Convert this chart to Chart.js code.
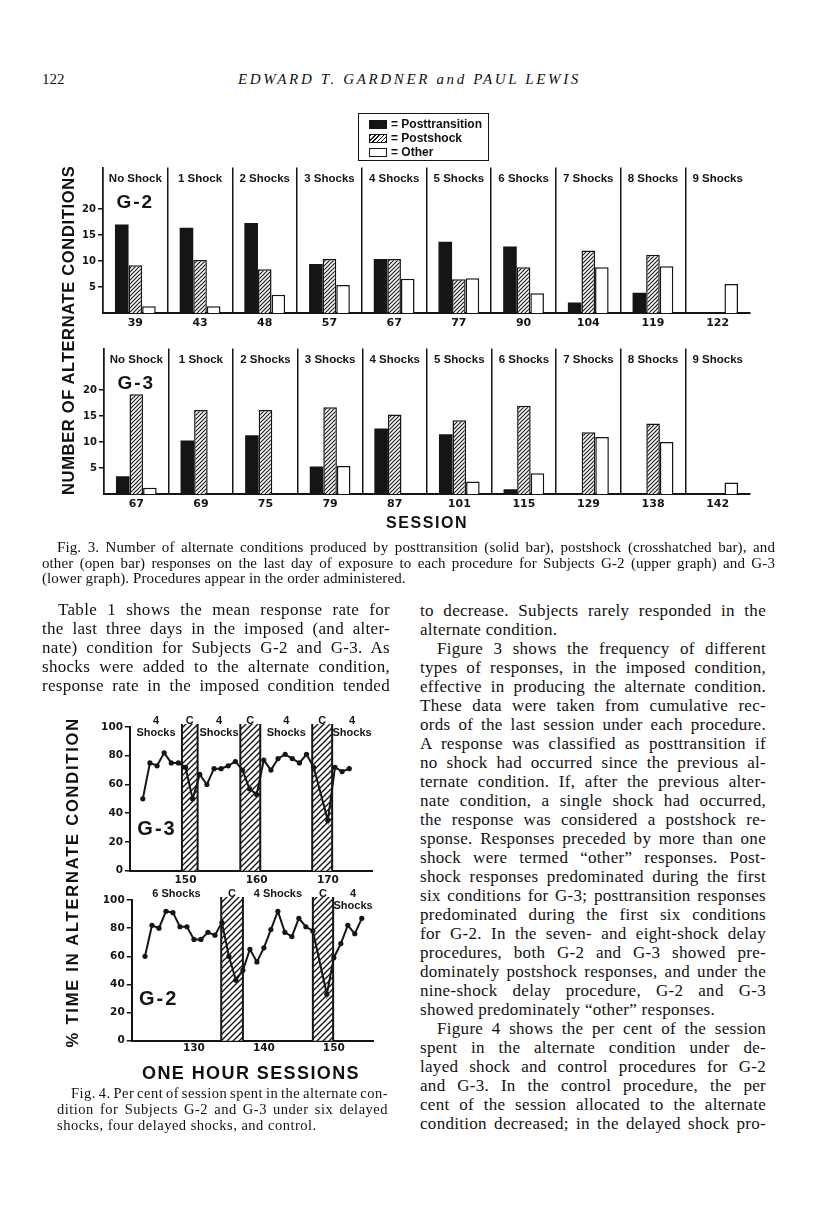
<!DOCTYPE html>
<html>
<head>
<meta charset="utf-8">
<script src="https://cdn.jsdelivr.net/npm/chart.js@4.4.1/dist/chart.umd.min.js"></script>
<style>
  html, body { margin: 0; padding: 0; background: #fff; }
  body { width: 816px; height: 1207px; position: relative; overflow: hidden; color: #111; }
  canvas { position: absolute; }
  .t { position: absolute; white-space: nowrap; }
  .serif { font-family: 'Liberation Serif', 'Times New Roman', serif; }
  .body { font-size: 17px; line-height: 18px; letter-spacing: 0.3px; }
  .cap3 { font-size: 15px; line-height: 16px; letter-spacing: 0.1px; }
  .cap4 { font-size: 14.5px; line-height: 16px; letter-spacing: 0.5px; }
  .head { font-size: 15px; line-height: 18px; }
  .fig { font-family: 'Liberation Sans', Arial, sans-serif; font-weight: bold; }
  #legend { position: absolute; left: 358px; top: 113px; width: 131px; height: 48px;
    border: 1.5px solid #151515; padding: 3px 0 0 10px; box-sizing: border-box;
    font: bold 12px 'Liberation Sans', Arial, sans-serif; }
  #legend div { height: 14px; line-height: 14px; white-space: nowrap; }
  .sw { display: inline-block; width: 18px; height: 9px; vertical-align: -1px; margin-right: 4px; box-sizing: border-box; }
  .sw0 { background: #151515; }
  .sw1 { border: 1.5px solid #151515; background: repeating-linear-gradient(-45deg, #151515 0 1px, #fff 1px 3px); }
  .sw2 { border: 1.5px solid #151515; background: #fff; }
</style>
</head>
<body>
<canvas id="g2bars" width="730" height="185" style="left:40px;top:150px"></canvas>
<canvas id="g3bars" width="730" height="185" style="left:40px;top:331px"></canvas>
<canvas id="g3line" width="330" height="195" style="left:60px;top:700px"></canvas>
<canvas id="g2line" width="330" height="195" style="left:60px;top:872px"></canvas>
<div id="legend"></div>
<script>
// ---------- Fig. 3 data ----------
const procedures = ['No Shock', '1 Shock', '2 Shocks', '3 Shocks', '4 Shocks', '5 Shocks', '6 Shocks', '7 Shocks', '8 Shocks', '9 Shocks']
const responseTypes = ['Posttransition', 'Postshock', 'Other']
const countTicks = [5, 10, 15, 20]

const g2Sessions = ['39', '43', '48', '57', '67', '77', '90', '104', '119', '122']
const g2Posttransition = [17, 16.4, 17.3, 9.4, 10.4, 13.7, 12.8, 2, 3.9, 0]
const g2Postshock = [9.2, 10.2, 8.4, 10.4, 10.4, 6.5, 8.8, 12, 11.2, 0]
const g2Other = [1.3, 1.3, 3.5, 5.4, 6.6, 6.7, 3.8, 8.8, 9, 5.6]

const g3Sessions = ['67', '69', '75', '79', '87', '101', '115', '129', '138', '142']
const g3Posttransition = [3.4, 10.3, 11.3, 5.3, 12.6, 11.5, 0.9, 0, 0, 0]
const g3Postshock = [19.2, 16.2, 16.2, 16.7, 15.3, 14.2, 17, 11.9, 13.6, 0]
const g3Other = [1.2, 0, 0, 5.4, 0, 2.4, 4, 11, 10, 2.2]

// ---------- Fig. 4 data ----------
const percentTicks = [0, 20, 40, 60, 80, 100]

const g3Days = [144, 145, 146, 147, 148, 149, 150, 151, 152, 153, 154, 155, 156, 157, 158, 159, 160, 161, 162, 163, 164, 165, 166, 167, 168, 170, 171, 172, 173]
const g3Percent = [50, 75, 73, 82, 75, 75, 72, 50, 67, 60, 71, 71, 73, 76, 70, 57, 53, 77, 70, 78, 81, 78, 75, 81, 72, 35, 72, 69, 71]
const g3ControlStart = [149.5, 157.7, 167.8]
const g3ControlEnd = [151.7, 160.5, 170.6]
const g3Phases = [['4', 'Shocks'], ['C'], ['4', 'Shocks'], ['C'], ['4', 'Shocks'], ['C'], ['4', 'Shocks']]
const g3DayTicks = [150, 160, 170]
const g3DayRange = [142.2, 176.2]

const g2Days = [123, 124, 125, 126, 127, 128, 129, 130, 131, 132, 133, 134, 135, 136, 137, 138, 139, 140, 141, 142, 143, 144, 145, 146, 147, 149, 150, 151, 152, 153, 154]
const g2Percent = [60, 82, 80, 92, 91, 81, 81, 72, 72, 77, 75, 84, 60, 43, 50, 65, 56, 66, 79, 92, 77, 74, 87, 81, 78, 33, 59, 69, 82, 76, 87]
const g2ControlStart = [133.9, 147.0]
const g2ControlEnd = [137.0, 149.9]
const g2Phases = [['6 Shocks'], ['C'], ['4 Shocks'], ['C'], ['4', 'Shocks']]
const g2DayTicks = [130, 140, 150]
const g2DayRange = [121.1, 155.6]

const INK = '#151515'
const SANS = '"Liberation Sans", Arial, sans-serif'

function hatchTile(size, lw) {
  const c = document.createElement('canvas')
  c.width = c.height = size
  const g = c.getContext('2d')
  g.fillStyle = '#fff'
  g.fillRect(0, 0, size, size)
  g.strokeStyle = INK
  g.lineWidth = lw
  g.beginPath()
  g.moveTo(-size, 2 * size); g.lineTo(2 * size, -size)
  g.moveTo(-size, size); g.lineTo(size, -size)
  g.moveTo(0, 2 * size); g.lineTo(2 * size, 0)
  g.stroke()
  return c
}

// procedure names on top of each column + subject name
function procedureLabels(subject) {
  return {
    id: 'procedureLabels',
    afterDraw(chart) {
      const { ctx, chartArea, scales: { x } } = chart
      ctx.save()
      ctx.fillStyle = INK
      ctx.textAlign = 'center'
      ctx.textBaseline = 'middle'
      ctx.font = 'bold 11.5px ' + SANS
      procedures.forEach((p, i) => ctx.fillText(p, x.getPixelForValue(i), chartArea.top + 11))
      ctx.font = 'bold 19px ' + SANS
      ctx.letterSpacing = '2px'
      ctx.fillText(subject, x.getPixelForValue(0), chartArea.top + 35)
      ctx.restore()
    }
  }
}

function barPanel(id, sessions, post, shock, other, subject, axisW, padTop) {
  const ctx = document.getElementById(id).getContext('2d')
  const hatch = ctx.createPattern(hatchTile(4, 1.1), 'repeat')
  const shape = { categoryPercentage: 0.63, barPercentage: 1 }
  return new Chart(ctx, {
    type: 'bar',
    data: {
      labels: sessions,
      datasets: [
        Object.assign({ label: responseTypes[0], data: post, backgroundColor: INK, borderWidth: 0 }, shape),
        Object.assign({ label: responseTypes[1], data: shock, backgroundColor: hatch, borderColor: INK, borderWidth: 1.5 }, shape),
        Object.assign({ label: responseTypes[2], data: other, backgroundColor: '#fff', borderColor: INK, borderWidth: 1.5 }, shape)
      ]
    },
    options: {
      responsive: false,
      animation: false,
      layout: { padding: { top: padTop, right: 20, left: 0, bottom: 0 } },
      plugins: { legend: { display: false }, tooltip: { enabled: false } },
      scales: {
        x: {
          grid: {
            offset: true, drawTicks: false, lineWidth: 1.5,
            color: c => c.type === 'tick' ? INK : 'rgba(0,0,0,0)'
          },
          border: { color: INK, width: 2 },
          ticks: { font: { family: 'DejaVu Sans', weight: 'bold', size: 11 }, color: INK, padding: 4, maxRotation: 0, autoSkip: false },
          afterFit: s => { s.height = 22 }
        },
        y: {
          min: 0, max: 28,
          afterBuildTicks: s => { s.ticks = countTicks.map(v => ({ value: v })) },
          grid: { drawOnChartArea: false, tickLength: 5, color: INK, lineWidth: 1.5 },
          border: { color: INK, width: 1.5 },
          ticks: { font: { family: 'DejaVu Sans', weight: 'bold', size: 10 }, color: INK, padding: 2 },
          afterFit: s => { s.width = axisW }
        }
      }
    },
    plugins: [procedureLabels(subject)]
  })
}

// hatched control sessions and phase names
function controlBands(starts, ends, phases, subject) {
  return {
    id: 'controlBands',
    beforeDatasetsDraw(chart) {
      const { ctx, chartArea: a, scales: { x } } = chart
      const pat = ctx.createPattern(hatchTile(6, 1.4), 'repeat')
      ctx.save()
      starts.forEach((s, i) => {
        const x1 = x.getPixelForValue(s), x2 = x.getPixelForValue(ends[i])
        ctx.fillStyle = pat
        ctx.fillRect(x1, a.top - 3, x2 - x1, a.bottom - a.top + 3)
        ctx.strokeStyle = INK
        ctx.lineWidth = 2
        ctx.beginPath()
        ctx.moveTo(x1, a.top - 3); ctx.lineTo(x1, a.bottom)
        ctx.moveTo(x2, a.top - 3); ctx.lineTo(x2, a.bottom)
        ctx.stroke()
      })
      ctx.restore()
    },
    afterDraw(chart) {
      const { ctx, chartArea: a, scales: { x } } = chart
      ctx.save()
      ctx.fillStyle = INK
      ctx.textAlign = 'center'
      ctx.textBaseline = 'middle'
      ctx.font = 'bold 11px ' + SANS
      phases.forEach((lines, i) => {
        let cx
        if (i % 2) {
          const k = (i - 1) / 2
          cx = (x.getPixelForValue(starts[k]) + x.getPixelForValue(ends[k])) / 2
        } else {
          const k = i / 2
          const l = k === 0 ? a.left : x.getPixelForValue(ends[k - 1])
          const r = k === starts.length ? a.right : x.getPixelForValue(starts[k])
          cx = (l + r) / 2
        }
        lines.forEach((txt, j) => ctx.fillText(txt, cx, a.top - 6 + j * 12))
      })
      ctx.font = 'bold 20px ' + SANS
      ctx.letterSpacing = '2px'
      ctx.fillText(subject, a.left + 27, a.bottom - 41)
      ctx.restore()
    }
  }
}

function linePanel(id, days, pct, starts, ends, phases, dayTicks, range, subject, axisW, padTop, padRight, axisH, tickPad) {
  const ctx = document.getElementById(id).getContext('2d')
  const tickFont = { family: 'DejaVu Sans', weight: 'bold', size: 10.5 }
  return new Chart(ctx, {
    type: 'line',
    data: {
      datasets: [{
        data: days.map((d, i) => ({ x: d, y: pct[i] })),
        borderColor: INK, borderWidth: 2, tension: 0,
        pointRadius: 2.6, pointBackgroundColor: INK, pointBorderWidth: 0
      }]
    },
    options: {
      responsive: false,
      animation: false,
      layout: { padding: { top: padTop, right: padRight, left: 0, bottom: 0 } },
      plugins: { legend: { display: false }, tooltip: { enabled: false } },
      scales: {
        x: {
          type: 'linear', min: range[0], max: range[1],
          afterBuildTicks: s => { s.ticks = dayTicks.map(v => ({ value: v })) },
          grid: { display: false, drawTicks: false },
          border: { color: INK, width: 2 },
          ticks: { font: tickFont, color: INK, padding: tickPad, maxRotation: 0 },
          afterFit: s => { s.height = axisH }
        },
        y: {
          min: 0, max: 100,
          afterBuildTicks: s => { s.ticks = percentTicks.map(v => ({ value: v })) },
          grid: { drawOnChartArea: false, tickLength: 5, color: INK, lineWidth: 1.5 },
          border: { color: INK, width: 2 },
          ticks: { font: tickFont, color: INK, padding: 2 },
          afterFit: s => { s.width = axisW }
        }
      }
    },
    plugins: [controlBands(starts, ends, phases, subject)]
  })
}

barPanel('g2bars', g2Sessions, g2Posttransition, g2Postshock, g2Other, 'G-2', 63, 17.4)
barPanel('g3bars', g3Sessions, g3Posttransition, g3Postshock, g3Other, 'G-3', 64, 17.6)
linePanel('g3line', g3Days, g3Percent, g3ControlStart, g3ControlEnd, g3Phases, g3DayTicks, g3DayRange, 'G-3', 70, 27, 18, 24.3, 3)
linePanel('g2line', g2Days, g2Percent, g2ControlStart, g2ControlEnd, g2Phases, g2DayTicks, g2DayRange, 'G-2', 71.7, 28, 17, 26.3, 1)

// legend
var legendBox = document.getElementById('legend')
responseTypes.forEach((name, i) => {
  let row = document.createElement('div')
  let sw = document.createElement('span')
  sw.className = 'sw sw' + i
  row.appendChild(sw)
  row.appendChild(document.createTextNode('= ' + name))
  legendBox.appendChild(row)
})

// ---------- text ----------
function addText(x, yc, text, cls, lh) {
  let d = document.createElement('div')
  d.className = 't ' + cls
  d.textContent = text
  d.style.left = x + 'px'
  d.style.top = (yc - lh / 2) + 'px'
  document.body.appendChild(d)
  return d
}

function justify(d, w) {
  let gaps = d.textContent.split(' ').length - 1
  let nat = d.getBoundingClientRect().width
  if (gaps > 0) d.style.wordSpacing = ((w - nat) / gaps) + 'px'
}

function stretch(d, w) {
  let n = d.textContent.length
  let cur = parseFloat(getComputedStyle(d).letterSpacing) || 0
  let nat = d.offsetWidth
  d.style.letterSpacing = (cur + (w - nat) / n) + 'px'
}

function column(lines, x, w, y0, step, cls, lh, indent, indents, lasts) {
  lines.forEach((txt, i) => {
    let ind = indents.includes(i) ? indent : 0
    let d = addText(x + ind, y0 + i * step, txt, cls, lh)
    if (!lasts.includes(i)) justify(d, w - ind)
  })
}

// header
addText(42, 79, '122', 'serif head', 18)
let head = addText(238, 79, 'EDWARD T. GARDNER and PAUL LEWIS', 'serif head', 18)
head.style.fontStyle = 'italic'
stretch(head, 343)

// axis titles and labels
function rotated(text, cx, cy, len, size) {
  let d = addText(0, 0, text, 'fig', size)
  d.style.fontSize = size + 'px'
  d.style.lineHeight = size + 'px'
  stretch(d, len)
  let w = d.offsetWidth
  d.style.left = (cx - w / 2) + 'px'
  d.style.top = (cy - size / 2) + 'px'
  d.style.transform = 'rotate(-90deg)'
  return d
}
rotated('NUMBER OF ALTERNATE CONDITIONS', 68, 330, 330, 16.5)
rotated('% TIME IN ALTERNATE CONDITION', 72, 882, 330, 16.5)

let sess = addText(0, 523, 'SESSION', 'fig', 18)
sess.style.fontSize = '16px'
stretch(sess, 82)
sess.style.left = (427 - sess.offsetWidth / 2) + 'px'

let hours = addText(0, 1073, 'ONE HOUR SESSIONS', 'fig', 20)
hours.style.fontSize = '18px'
stretch(hours, 218)
hours.style.left = (251 - hours.offsetWidth / 2) + 'px'

// Fig. 3 caption
column([
  'Fig. 3. Number of alternate conditions produced by posttransition (solid bar), postshock (crosshatched bar), and',
  'other (open bar) responses on the last day of exposure to each procedure for Subjects G-2 (upper graph) and G-3',
  '(lower graph). Procedures appear in the order administered.'
], 42, 733, 547, 15.5, 'serif cap3', 16, 15, [0], [2])

// body text, left column
column([
  'Table 1 shows the mean response rate for',
  'the last three days in the imposed (and alter-',
  'nate) condition for Subjects G-2 and G-3. As',
  'shocks were added to the alternate condition,',
  'response rate in the imposed condition tended'
], 42, 348, 609.5, 19, 'serif body', 18, 16, [0], [])

// body text, right column
column([
  'to decrease. Subjects rarely responded in the',
  'alternate condition.',
  'Figure 3 shows the frequency of different',
  'types of responses, in the imposed condition,',
  'effective in producing the alternate condition.',
  'These data were taken from cumulative rec-',
  'ords of the last session under each procedure.',
  'A response was classified as posttransition if',
  'no shock had occurred since the previous al-',
  'ternate condition. If, after the previous alter-',
  'nate condition, a single shock had occurred,',
  'the response was considered a postshock re-',
  'sponse. Responses preceded by more than one',
  'shock were termed \u201cother\u201d responses. Post-',
  'shock responses predominated during the first',
  'six conditions for G-3; posttransition responses',
  'predominated during the first six conditions',
  'for G-2. In the seven- and eight-shock delay',
  'procedures, both G-2 and G-3 showed pre-',
  'dominately postshock responses, and under the',
  'nine-shock delay procedure, G-2 and G-3',
  'showed predominately \u201cother\u201d responses.',
  'Figure 4 shows the per cent of the session',
  'spent in the alternate condition under de-',
  'layed shock and control procedures for G-2',
  'and G-3. In the control procedure, the per',
  'cent of the session allocated to the alternate',
  'condition decreased; in the delayed shock pro-'
], 420, 346, 610.5, 19, 'serif body', 18, 17, [2, 22], [1, 21])

// Fig. 4 caption
column([
  'Fig. 4. Per cent of session spent in the alternate con-',
  'dition for Subjects G-2 and G-3 under six delayed',
  'shocks, four delayed shocks, and control.'
], 57, 331, 1093.3, 15.7, 'serif cap4', 16, 14, [0], [2])
</script>
</body>
</html>
